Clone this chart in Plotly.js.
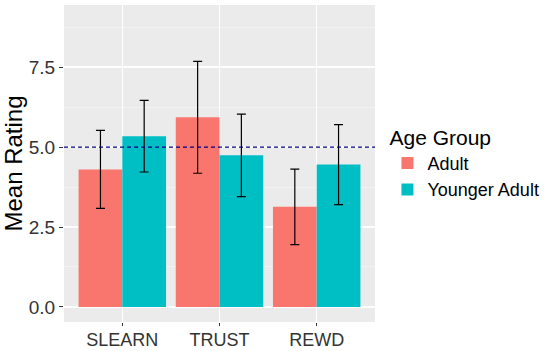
<!DOCTYPE html>
<html>
<head>
<meta charset="utf-8">
<script src="https://cdn.plot.ly/plotly-3.0.1.min.js"></script>
<style>html,body{margin:0;padding:0;background:#fff;}#chart{width:550px;height:351px;}</style>
</head>
<body>
<div id="chart"></div>
<script>
var categories = ["SLEARN", "TRUST", "REWD"];
var groups = ["Adult", "Younger Adult"];
var adultMeans = [4.30, 5.93, 3.13];
var adultErr = [1.22, 1.75, 1.18];
var youngMeans = [5.34, 4.74, 4.45];
var youngErr = [1.12, 1.29, 1.25];
var yTicks = [0, 2.5, 5, 7.5];
var yTickLabels = ["0.0", "2.5", "5.0", "7.5"];
var refLine = 5;

var errStyle = {color: "#000000", thickness: 1.2, width: 4.5};
var traces = [
  {type: "bar", name: groups[0], x: categories, y: adultMeans,
   marker: {color: "#F8766D"},
   error_y: Object.assign({type: "data", array: adultErr, visible: true}, errStyle)},
  {type: "bar", name: groups[1], x: categories, y: youngMeans,
   marker: {color: "#00BFC4"},
   error_y: Object.assign({type: "data", array: youngErr, visible: true}, errStyle)}
];

var layout = {
  width: 550, height: 351,
  margin: {l: 64, r: 175, t: 5, b: 29},
  paper_bgcolor: "#ffffff",
  plot_bgcolor: "#EBEBEB",
  barmode: "group",
  bargap: 0.1,
  bargroupgap: 0,
  font: {family: "Liberation Sans, Arial, sans-serif", color: "#4D4D4D"},
  xaxis: {
    range: [-0.6, 2.6],
    showgrid: true, gridcolor: "#ffffff", gridwidth: 1.2,
    ticks: "outside", ticklen: 3, tickcolor: "#333333",
    tickfont: {size: 18, color: "#333333"},
    ticklabelstandoff: -2,
    zeroline: false, showline: false
  },
  yaxis: {
    range: [-0.47, 9.44],
    tickvals: yTicks, ticktext: yTickLabels,
    showgrid: true, gridcolor: "#ffffff", gridwidth: 1.2,
    minor: {dtick: 2.5, tick0: 1.25, showgrid: true, gridcolor: "#F7F7F7", gridwidth: 0.6},
    ticks: "outside", ticklen: 4, tickcolor: "#333333",
    tickfont: {size: 19, color: "#333333"},
    zeroline: false, showline: false,
    title: {text: "Mean Rating", font: {size: 24, color: "#000000"}, standoff: 4}
  },
  shapes: [{
    type: "line", xref: "paper", x0: 0, x1: 1, yref: "y", y0: refLine, y1: refLine,
    line: {color: "#000080", width: 1.2, dash: "4px,3px"}
  }],
  legend: {
    x: 1.04, y: 0.645, xanchor: "left", yanchor: "top",
    title: {text: "Age Group", font: {size: 21, color: "#000000"}},
    font: {size: 18, color: "#000000"},
    bgcolor: "rgba(0,0,0,0)",
    itemwidth: 30,
    tracegroupgap: 0
  },
  showlegend: true
};

Plotly.newPlot("chart", traces, layout, {displayModeBar: false, staticPlot: true});
</script>
</body>
</html>
